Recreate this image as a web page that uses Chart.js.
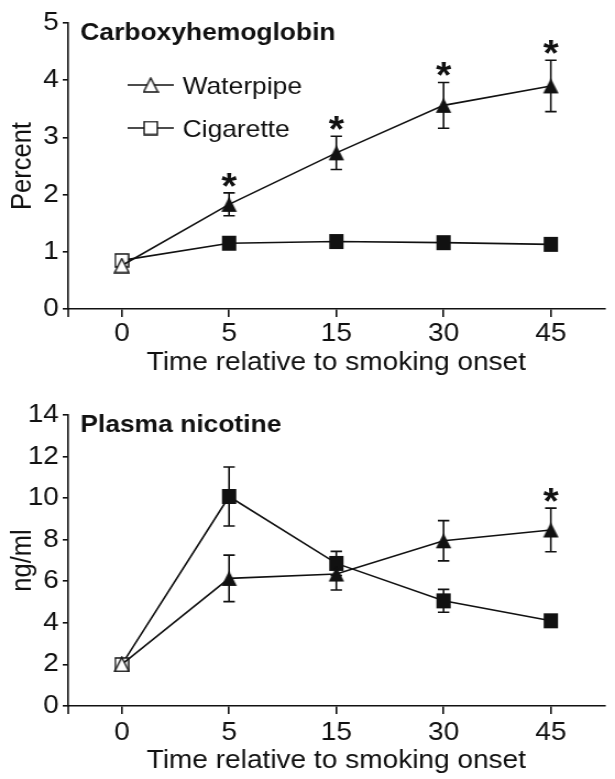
<!DOCTYPE html>
<html>
<head>
<meta charset="utf-8">
<script src="https://cdn.jsdelivr.net/npm/chart.js@4.4.1/dist/chart.umd.min.js"></script>
<style>
  html, body { margin: 0; padding: 0; background: #fff; }
  body { width: 615px; height: 779px; position: relative; overflow: hidden; }
  .wrap { position: absolute; left: 0; width: 615px; }
  canvas { display: block; }
</style>
</head>
<body>
<div class="wrap" style="top:0;height:390px;"><canvas id="c1" width="559" height="390" style="width:615px;height:390px;"></canvas></div>
<div class="wrap" style="top:390px;height:389px;"><canvas id="c2" width="559" height="389" style="width:615px;height:389px;"></canvas></div>
<script>
// ---------- data ----------
const timeLabels = ['0', '5', '15', '30', '45'];
const seriesNames = ['Waterpipe', 'Cigarette'];

const cohbTitle = 'Carboxyhemoglobin';
const cohbYLabel = 'Percent';
const cohbTicks = { min: 0, max: 5, step: 1 };
const cohbWaterpipe = [0.76, 1.83, 2.73, 3.56, 3.90];
const cohbWaterpipeSem = [0, 0.20, 0.29, 0.40, 0.45];
const cohbCigarette = [0.85, 1.15, 1.18, 1.16, 1.13];
const cohbCigaretteSem = [0, 0, 0, 0, 0];
const cohbSignificant = [false, true, true, true, true];

const nicTitle = 'Plasma nicotine';
const nicYLabel = 'ng/ml';
const nicTicks = { min: 0, max: 14, step: 2 };
const nicWaterpipe = [2.0, 6.14, 6.35, 7.95, 8.47];
const nicWaterpipeSem = [0, 1.12, 0.77, 0.97, 1.05];
const nicCigarette = [2.0, 10.08, 6.86, 5.06, 4.10];
const nicCigaretteSem = [0, 1.42, 0.58, 0.55, 0.22];
const nicSignificant = [false, false, false, false, true];

const xTitle = 'Time relative to smoking onset';

// ---------- styling ----------
const FONT = "'Liberation Sans', Arial, Helvetica, sans-serif";
const INK = '#111';
const FS = 25.5;
Chart.defaults.font.family = FONT;
Chart.defaults.color = INK;

function makeMarker(shape, filled, w, h) {
  const c = document.createElement('canvas');
  c.width = w + 2; c.height = h + 2;
  const g = c.getContext('2d');
  g.beginPath();
  if (shape === 'tri') {
    g.moveTo(1 + w / 2, 1);
    g.lineTo(1 + w, 1 + h);
    g.lineTo(1, 1 + h);
    g.closePath();
  } else {
    g.rect(1, 1, w, h);
  }
  if (filled) { g.fillStyle = INK; g.fill(); }
  else { g.fillStyle = '#fff'; g.fill(); g.lineWidth = 1.4; g.strokeStyle = INK; g.stroke(); }
  return c;
}
const triFilled = makeMarker('tri', true, 14, 15);
const triOpen = makeMarker('tri', false, 13, 14);
const sqFilled = makeMarker('sq', true, 13, 15);
const sqOpen = makeMarker('sq', false, 12, 13);

function styles(baseline, later, n) {
  return Array.from({ length: n }, (_, i) => (i === 0 ? baseline : later));
}

const annot = {
  id: 'annot',
  beforeDatasetsDraw(chart, args, o) {
    const ctx = chart.ctx;
    const ys = chart.scales.y;
    ctx.save();
    ctx.strokeStyle = INK;
    ctx.lineWidth = 1.6;
    chart.data.datasets.forEach((ds, d) => {
      const meta = chart.getDatasetMeta(d);
      ds.data.forEach((v, i) => {
        const s = o.sems[d][i];
        if (!s) return;
        const x = meta.data[i].x;
        const yT = ys.getPixelForValue(v + s);
        const yB = ys.getPixelForValue(v - s);
        ctx.beginPath();
        ctx.moveTo(x, yT); ctx.lineTo(x, yB);
        ctx.moveTo(x - 5.2, yT); ctx.lineTo(x + 5.2, yT);
        ctx.moveTo(x - 5.2, yB); ctx.lineTo(x + 5.2, yB);
        ctx.stroke();
      });
    });
    ctx.restore();
  },
  afterDatasetsDraw(chart, args, o) {
    const ctx = chart.ctx;
    const ys = chart.scales.y;
    const area = chart.chartArea;
    ctx.save();
    // y-axis continues a little below the x-axis
    ctx.strokeStyle = INK; ctx.lineWidth = 1.6;
    ctx.beginPath();
    ctx.moveTo(area.left, area.bottom); ctx.lineTo(area.left, area.bottom + 8);
    ctx.stroke();
    // significance asterisks
    ctx.fillStyle = INK;
    ctx.font = 'bold 36px ' + FONT;
    ctx.textAlign = 'center';
    ctx.textBaseline = 'alphabetic';
    const meta = chart.getDatasetMeta(0);
    const data = chart.data.datasets[0].data;
    o.sig.forEach((flag, i) => {
      if (!flag) return;
      const x = meta.data[i].x;
      const yT = ys.getPixelForValue(data[i] + o.sems[0][i]);
      ctx.fillText('*', x, yT + 6);
    });
    // panel title
    ctx.textAlign = 'left';
    ctx.font = 'bold 24px ' + FONT;
    ctx.fillText(o.title, 73, area.top + 17);
    // legend
    if (o.legend) {
      const rows = [[triOpen, 85], [sqOpen, 128]];
      ctx.font = '24px ' + FONT;
      rows.forEach(([img, y], k) => {
        ctx.beginPath();
        ctx.lineWidth = 1.6;
        ctx.moveTo(116, y); ctx.lineTo(158, y);
        ctx.stroke();
        ctx.drawImage(img, 137 - img.width / 2, y - img.height / 2);
        ctx.fillText(seriesNames[k], 166, y + 9);
      });
    }
    ctx.restore();
  }
};

function buildChart(id, cfg) {
  const n = timeLabels.length;
  return new Chart(document.getElementById(id), {
    type: 'line',
    data: {
      labels: timeLabels,
      datasets: [
        {
          label: seriesNames[0], data: cfg.water,
          borderColor: INK, borderWidth: 1.6, tension: 0,
          pointStyle: styles(triOpen, triFilled, n), pointRadius: 8, clip: false
        },
        {
          label: seriesNames[1], data: cfg.cig,
          borderColor: INK, borderWidth: 1.6, tension: 0,
          pointStyle: styles(sqOpen, sqFilled, n), pointRadius: 8, clip: false
        }
      ]
    },
    options: {
      responsive: false,
      animation: false,
      devicePixelRatio: 1,
      layout: { padding: { top: cfg.top, left: 0, right: -3, bottom: 0 } },
      plugins: {
        legend: { display: false },
        tooltip: { enabled: false },
        annot: { sems: cfg.sems, sig: cfg.sig, title: cfg.title, legend: cfg.legend }
      },
      scales: {
        x: {
          type: 'category',
          offset: true,
          afterFit: (s) => { s.height = cfg.xHeight; },
          grid: { offset: false, drawOnChartArea: false, drawTicks: true, tickLength: 8, color: INK, lineWidth: 1.6 },
          border: { display: true, color: INK, width: 1.6 },
          ticks: { color: INK, padding: cfg.xPad, font: { size: FS, lineHeight: 1 }, maxRotation: 0 },
          title: { display: true, text: xTitle, color: INK, font: { size: FS, lineHeight: 1 }, padding: { top: 0, bottom: cfg.titlePad } }
        },
        y: {
          min: cfg.ticks.min, max: cfg.ticks.max,
          afterFit: (s) => { s.width = 62; },
          grid: { drawOnChartArea: false, drawTicks: true, tickLength: 5, color: INK, lineWidth: 1.6 },
          border: { display: true, color: INK, width: 1.6 },
          ticks: { stepSize: cfg.ticks.step, color: INK, padding: 3.5, font: { size: FS, lineHeight: 1 } },
          title: { display: true, text: cfg.yLabel, color: INK, font: { size: FS, lineHeight: 1 }, padding: { top: 8.5, bottom: 0 } }
        }
      }
    },
    plugins: [annot]
  });
}

buildChart('c1', {
  water: cohbWaterpipe, cig: cohbCigarette,
  sems: [cohbWaterpipeSem, cohbCigaretteSem], sig: cohbSignificant,
  title: cohbTitle, yLabel: cohbYLabel, ticks: cohbTicks, legend: true,
  top: 23, xHeight: 81, xPad: 4.5, titlePad: 14.5
});
buildChart('c2', {
  water: nicWaterpipe, cig: nicCigarette,
  sems: [nicWaterpipeSem, nicCigaretteSem], sig: nicSignificant,
  title: nicTitle, yLabel: nicYLabel, ticks: nicTicks, legend: false,
  top: 25, xHeight: 73, xPad: 6.5, titlePad: 5.5
});
</script>
</body>
</html>
